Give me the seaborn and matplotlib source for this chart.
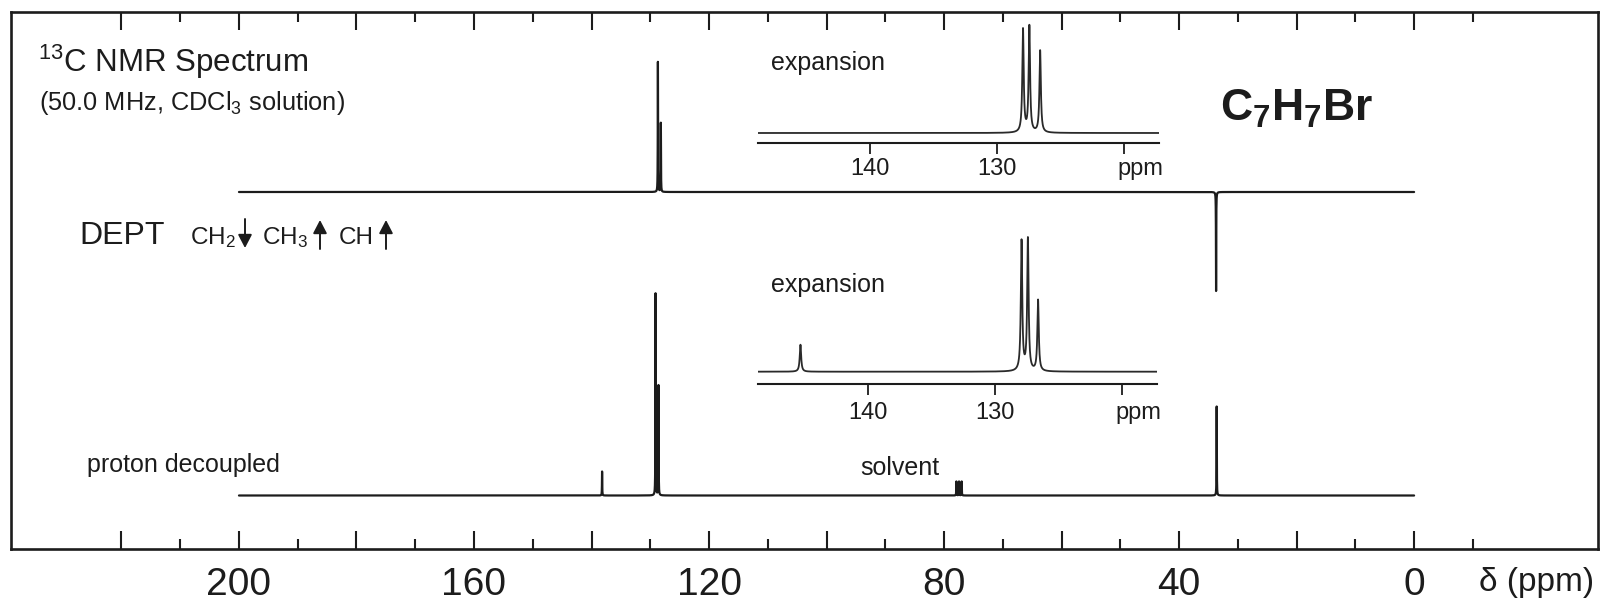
import numpy as np
import pandas as pd
import matplotlib
matplotlib.use("Agg")
import matplotlib.pyplot as plt
from matplotlib.ticker import FixedLocator, FixedFormatter
import seaborn as sns

# ---------------- data ----------------
# DEPT spectrum (CH2 points down, CH / CH3 point up): shift (ppm), peak height
dept_shift = [128.7, 128.2, 33.7]
dept_height = [130, 69, -99]
# proton-decoupled 13C spectrum
decoupled_shift = [138.2, 129.1, 128.6, 77.9, 77.45, 77.0, 33.6]
decoupled_height = [24, 202, 110, 14, 14, 14, 89]
# expansion insets (on their own printed ppm scale)
dept_exp_shift = [127.95, 127.45, 126.6]
dept_exp_height = [103, 106, 82]
decoupled_exp_shift = [145.3, 127.9, 127.4, 126.6]
decoupled_exp_height = [27, 130, 132, 71]
# axis ticks / labels
main_major_ticks = [220, 200, 180, 160, 140, 120, 100, 80, 60, 40, 20, 0]
main_minor_ticks = [210, 190, 170, 150, 130, 110, 90, 70, 50, 30, 10, -10]
main_tick_labels = ["", "200", "", "160", "", "120", "", "80", "", "40", "", "0"]
inset_ticks = [140, 130, 120]
inset_tick_labels = ["140", "130", ""]

# ---------------- style ----------------
sns.set_theme(style="white")
plt.rcParams["font.family"] = ["Liberation Sans", "DejaVu Sans"]
plt.rcParams["mathtext.fontset"] = "custom"
plt.rcParams["mathtext.rm"] = "Liberation Sans"
plt.rcParams["mathtext.it"] = "Liberation Sans:italic"
plt.rcParams["mathtext.bf"] = "Liberation Sans:bold"
plt.rcParams["mathtext.sf"] = "Liberation Sans"
INK = "#1c1c1c"

W, H = 1601, 602
fig = plt.figure(figsize=(W / 100, H / 100), dpi=100)
fig.patch.set_facecolor("white")


def px_axes(left, top, right, bottom):
    return fig.add_axes([left / W, 1 - bottom / H, (right - left) / W, (bottom - top) / H])


def lorentz_sum(grid, shifts, heights, hwhm):
    g = np.asarray(grid)[:, None]
    s = np.asarray(shifts, dtype=float)[None, :]
    h = np.asarray(heights, dtype=float)[None, :]
    return (h * hwhm ** 2 / (hwhm ** 2 + (g - s) ** 2)).sum(axis=1)


def draw(ax, grid, shifts, heights, hwhm, base, lw, color=INK):
    df = pd.DataFrame({"ppm": grid, "signal": base + lorentz_sum(grid, shifts, heights, hwhm)})
    sns.lineplot(data=df, x="ppm", y="signal", ax=ax, estimator=None, sort=False,
                 color=color, linewidth=lw)
    ax.set_xlabel("")
    ax.set_ylabel("")


# ---------------- main axes ----------------
ax = px_axes(11, 12, 1598, 549)
ax.patch.set_alpha(0)
grid = np.linspace(200, 0, 40001)
draw(ax, grid, dept_shift, dept_height, 0.025, 357, 1.6)
draw(ax, grid, decoupled_shift, decoupled_height, 0.025, 53.5, 1.6)
ax.set_xlim(238.8, -31.3)
ax.set_ylim(0, 537)
for s in ax.spines.values():
    s.set_visible(True)
    s.set_linewidth(1.9)
    s.set_color(INK)
ax.xaxis.set_major_locator(FixedLocator(main_major_ticks))
ax.xaxis.set_major_formatter(FixedFormatter(main_tick_labels))
ax.xaxis.set_minor_locator(FixedLocator(main_minor_ticks))
ax.set_yticks([])
ax.tick_params(axis="x", which="both", direction="in", top=True, bottom=True,
               color=INK, width=1.5)
ax.tick_params(axis="x", which="major", length=13, pad=13, labelsize=28, labelcolor=INK)
ax.tick_params(axis="x", which="minor", length=7)


# ---------------- inset axes ----------------
def inset(left, top, right, bottom, xl, xr, shifts, heights, base, pad):
    a = px_axes(left, top, right, bottom)
    a.patch.set_alpha(0)
    g = np.linspace(149, 117, 3201)
    draw(a, g, shifts, heights, 0.066, base, 1.3, color="#2a2a2a")
    a.set_xlim(xl, xr)
    a.set_ylim(0, bottom - top)
    for k, s in a.spines.items():
        s.set_visible(k == "bottom")
    a.spines["bottom"].set_linewidth(1.5)
    a.spines["bottom"].set_color(INK)
    a.xaxis.set_major_locator(FixedLocator(inset_ticks))
    a.xaxis.set_major_formatter(FixedFormatter(inset_tick_labels))
    a.set_yticks([])
    a.tick_params(axis="x", direction="out", bottom=True, length=8, width=1.3,
                  color=INK, labelsize=17, labelcolor=INK, pad=pad)
    a.text(118.7, -pad * 1.39 - 11, "ppm", fontsize=17, color=INK, ha="center", va="top",
           transform=a.transData)
    return a


inset(758, 20, 1159, 143, 148.82, 117.24, dept_exp_shift, dept_exp_height, 10, 3)
inset(758, 230, 1157, 384, 148.64, 117.24, decoupled_exp_shift, decoupled_exp_height, 12.3, 5)


# ---------------- texts ----------------
def ftext(x, y, s, **kw):
    kw.setdefault("color", INK)
    fig.text(x / W, 1 - y / H, s, **kw)


def farrow(x, y_from, y_to):
    fig.add_artist(matplotlib.patches.FancyArrowPatch(
        (x / W, 1 - y_from / H), (x / W, 1 - y_to / H), transform=fig.transFigure,
        arrowstyle="-|>,head_length=5,head_width=2.6", linewidth=1.4, color=INK,
        shrinkA=0, shrinkB=0, mutation_scale=1.6))


ftext(38, 72, r"$\mathregular{^{13}}$C NMR Spectrum", fontsize=22.5, va="baseline")
ftext(39, 110, r"(50.0 MHz, $\mathregular{CDCl_3}$ solution)", fontsize=18.3, va="baseline")
ftext(79, 244, "DEPT", fontsize=23, va="baseline")
ftext(190, 244, r"$\mathregular{CH_2}$", fontsize=17.5, va="baseline")
ftext(262, 244, r"$\mathregular{CH_3}$", fontsize=17.5, va="baseline")
ftext(339, 244, "CH", fontsize=17.5, va="baseline")
farrow(245, 219, 248)
farrow(320, 249, 220)
farrow(386, 249, 220)
ftext(87, 472, "proton decoupled", fontsize=18, va="baseline")
ftext(860, 475, "solvent", fontsize=18, va="baseline")
ftext(771, 70, "expansion", fontsize=18, va="baseline")
ftext(771, 292, "expansion", fontsize=18, va="baseline")
ftext(1220, 121, r"$\mathbf{C_7H_7Br}$", fontsize=32, va="baseline")
ftext(1479, 591, "δ (ppm)", fontsize=24, va="baseline")

fig.savefig("out.png", dpi=100)
